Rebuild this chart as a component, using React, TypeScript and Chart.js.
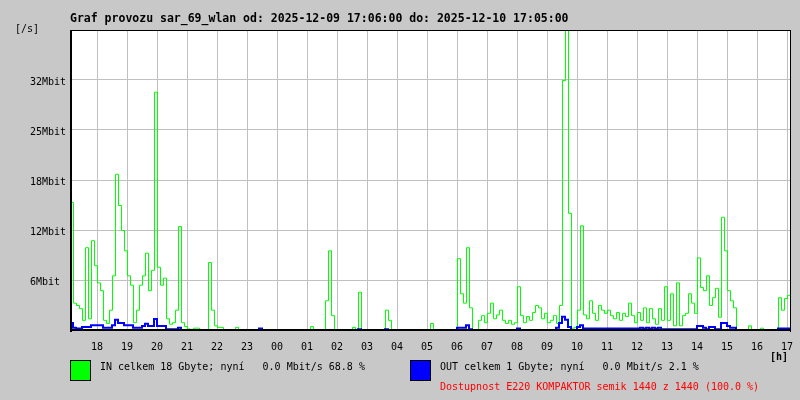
import React, { useEffect, useRef } from "react";
import { Chart, registerables } from "chart.js";

Chart.register(...registerables);

// ---- data ----
const SAMPLE_MINUTES = 6; // one sample every 6 minutes, starting 17:06
const RANGE_MINUTES = 1440;
const hourLabels = [
  "18", "19", "20", "21", "22", "23", "00", "01", "02", "03", "04", "05",
  "06", "07", "08", "09", "10", "11", "12", "13", "14", "15", "16", "17",
];
const FIRST_HOUR_OFFSET = 54; // 17:06 -> 18:00
const yTickValues = [0, 6.4, 12.8, 19.2, 25.6, 32, 38.4];
const yTickLabels = ["", "6Mbit", "12Mbit", "18Mbit", "25Mbit", "32Mbit", ""];

// IN traffic [Mbit/s]
const inMbit = [
  16.4, 3.5, 3.2, 2.8, 1.3, 10.6, 1.5, 11.5, 8.3, 6.1,
  5.1, 1.3, 0.9, 2.6, 7.0, 20.0, 16.0, 12.8, 10.2, 7.0,
  5.8, 1.0, 2.6, 5.8, 7.0, 9.9, 5.1, 7.7, 30.5, 8.1,
  5.8, 6.7, 1.5, 0.8, 1.0, 2.6, 13.3, 1.0, 0.5, 0.2,
  0.1, 0.3, 0.3, 0.1, 0, 0.1, 8.7, 2.6, 0.6, 0.4,
  0.4, 0, 0, 0, 0, 0.4, 0, 0, 0, 0,
  0, 0, 0, 0, 0, 0, 0, 0, 0, 0,
  0, 0, 0, 0, 0, 0, 0, 0, 0, 0,
  0.5, 0, 0, 0, 0, 3.8, 10.2, 1.9, 0.1, 0,
  0, 0, 0, 0, 0.4, 0, 4.9, 0, 0, 0,
  0, 0, 0, 0, 0, 2.6, 1.3, 0, 0, 0,
  0, 0, 0, 0, 0, 0, 0, 0, 0, 0,
  0.9, 0, 0, 0, 0, 0, 0, 0, 0, 9.2,
  4.7, 3.5, 10.6, 2.9, 0, 0.1, 1.3, 1.9, 1.0, 2.2,
  3.5, 1.5, 2.0, 2.6, 1.3, 0.9, 1.3, 0.8, 1.0, 5.6,
  1.9, 1.0, 1.8, 1.3, 2.3, 3.2, 2.9, 1.5, 2.2, 1.0,
  1.3, 1.9, 0.9, 3.2, 32.0, 38.8, 15.0, 0.3, 0.4, 2.6,
  13.4, 2.0, 1.5, 3.8, 2.2, 1.3, 3.2, 2.6, 2.2, 2.6,
  1.9, 1.5, 2.3, 1.3, 2.2, 1.8, 3.5, 1.9, 1.0, 2.3,
  1.3, 2.9, 1.0, 2.8, 1.5, 0.8, 2.8, 1.3, 5.6, 1.3,
  4.7, 0.6, 6.1, 0.6, 1.9, 2.2, 4.7, 3.5, 2.2, 9.3,
  5.5, 5.1, 7.0, 3.2, 4.2, 5.4, 1.7, 14.5, 10.2, 5.1,
  3.8, 2.9, 0, 0, 0, 0, 0.6, 0, 0, 0,
  0.3, 0, 0, 0, 0, 0, 4.2, 2.6, 4.1, 4.5,
  3.8,
];

// OUT traffic [Mbit/s]
const outMbit = [
  0.9, 0.3, 0.2, 0.2, 0.4, 0.4, 0.4, 0.6, 0.6, 0.6,
  0.6, 0.3, 0.3, 0.3, 0.6, 1.3, 0.9, 0.9, 0.6, 0.6,
  0.6, 0.3, 0.3, 0.3, 0.5, 0.8, 0.5, 0.5, 1.4, 0.5,
  0.5, 0.5, 0.1, 0.1, 0.1, 0.1, 0.3, 0, 0, 0,
  0, 0, 0, 0, 0, 0, 0, 0, 0, 0,
  0, 0, 0, 0, 0, 0, 0, 0, 0, 0,
  0, 0, 0, 0.2, 0, 0, 0, 0, 0, 0,
  0, 0, 0, 0, 0, 0, 0, 0, 0, 0,
  0, 0, 0, 0, 0, 0, 0, 0, 0, 0,
  0, 0, 0, 0, 0, 0, 0.1, 0, 0, 0,
  0, 0, 0, 0, 0, 0.1, 0, 0, 0, 0,
  0, 0, 0, 0, 0, 0, 0, 0, 0, 0,
  0, 0, 0, 0, 0, 0, 0, 0, 0, 0.3,
  0.3, 0.3, 0.6, 0.1, 0, 0, 0, 0, 0, 0,
  0, 0, 0, 0, 0, 0, 0, 0, 0, 0.2,
  0, 0, 0, 0, 0, 0, 0, 0, 0, 0,
  0, 0, 0.3, 0.9, 1.7, 1.3, 0.4, 0, 0, 0.4,
  0.6, 0.2, 0.2, 0.2, 0.2, 0.2, 0.2, 0.2, 0.2, 0.2,
  0.2, 0.2, 0.2, 0.2, 0.2, 0.2, 0.2, 0.2, 0.2, 0.2,
  0.3, 0.2, 0.3, 0.2, 0.3, 0.2, 0.3, 0.1, 0.1, 0.1,
  0.1, 0.1, 0.1, 0.1, 0.1, 0.1, 0.1, 0.1, 0.1, 0.5,
  0.5, 0.3, 0.1, 0.4, 0.4, 0.1, 0.1, 0.9, 0.9, 0.5,
  0.3, 0.3, 0, 0, 0, 0, 0, 0, 0, 0,
  0, 0, 0, 0, 0, 0, 0.2, 0.2, 0.2, 0.2,
  0.2,
];

const titleText = "Graf provozu sar_69_wlan od: 2025-12-09 17:06:00 do: 2025-12-10 17:05:00";
const yUnitText = "[/s]";
const xUnitText = "[h]";
const inLegendText = "IN celkem 18 Gbyte; nyní   0.0 Mbit/s 68.8 %";
const outLegendText = "OUT celkem 1 Gbyte; nyní   0.0 Mbit/s 2.1 %";
const availabilityText = "Dostupnost E220 KOMPAKTOR semik 1440 z 1440 (100.0 %)";

const MONO = '"DejaVu Sans Mono", "Liberation Mono", monospace';

const decorPlugin = {
  id: "mrtgDecor",
  beforeDraw(chart: any) {
    const { ctx, chartArea: a, width, height } = chart;
    ctx.save();
    ctx.fillStyle = "#c8c8c8";
    ctx.fillRect(0, 0, width, height);
    ctx.fillStyle = "#ffffff";
    ctx.fillRect(a.left, a.top, a.right - a.left, a.bottom - a.top);
    ctx.restore();
  },
  beforeDatasetDraw(chart: any, args: any) {
    chart.ctx.save();
    if (args.index === 1) chart.ctx.translate(0.5, 0.5);
  },
  afterDatasetDraw(chart: any) {
    chart.ctx.restore();
  },
  afterDraw(chart: any) {
    const { ctx, chartArea: a } = chart;
    ctx.save();
    // frame
    ctx.fillStyle = "#000000";
    ctx.fillRect(a.left, a.top, a.right - a.left + 1, 1);
    ctx.fillRect(a.right, a.top, 1, a.bottom - a.top + 2);
    ctx.fillRect(a.left, a.top, 2, a.bottom - a.top + 2);
    ctx.fillRect(a.left, a.bottom - 1, a.right - a.left + 1, 2);

    ctx.textBaseline = "middle";
    ctx.textAlign = "left";
    ctx.fillStyle = "#000000";
    ctx.font = `bold 11.5px ${MONO}`;
    ctx.fillText(titleText, 70, 19);
    ctx.font = `10px ${MONO}`;
    ctx.fillText(yUnitText, 15, 29);
    ctx.font = `bold 10px ${MONO}`;
    ctx.fillText(xUnitText, 770, 357);

    // legend boxes
    ctx.fillStyle = "#00ff00";
    ctx.fillRect(70, 360, 21, 21);
    ctx.fillStyle = "#0000ff";
    ctx.fillRect(410, 360, 21, 21);
    ctx.strokeStyle = "#000000";
    ctx.lineWidth = 1;
    ctx.strokeRect(70.5, 360.5, 20, 20);
    ctx.strokeRect(410.5, 360.5, 20, 20);

    ctx.font = `10px ${MONO}`;
    ctx.fillStyle = "#000000";
    ctx.fillText(inLegendText, 100, 367);
    ctx.fillText(outLegendText, 440, 367);
    ctx.fillStyle = "#ff0000";
    ctx.fillText(availabilityText, 440, 387);
    ctx.restore();
  },
};

export default function App() {
  const canvasRef = useRef<HTMLCanvasElement>(null);

  useEffect(() => {
    document.body.style.margin = "0";
    const canvas = canvasRef.current;
    if (!canvas) return;
    const toPoints = (arr: number[]) => arr.map((v, i) => ({ x: i * SAMPLE_MINUTES, y: v }));
    const hourTicks = hourLabels.map((_, k) => FIRST_HOUR_OFFSET + 60 * k);

    const chart = new Chart(canvas, {
      type: "line",
      data: {
        datasets: [
          {
            label: "OUT",
            data: toPoints(outMbit),
            borderColor: "#0000ff",
            borderWidth: 2,
            pointRadius: 0,
            stepped: true,
            fill: false,
          },
          {
            label: "IN",
            data: toPoints(inMbit),
            borderColor: "#00ff00",
            borderWidth: 1,
            pointRadius: 0,
            stepped: true,
            fill: false,
          },
        ],
      },
      options: {
        animation: false,
        responsive: false,
        devicePixelRatio: 1,
        layout: { padding: { left: 30, right: 10, top: 30, bottom: 0 } },
        plugins: {
          legend: { display: false },
          title: { display: false },
          tooltip: { enabled: false },
        },
        scales: {
          x: {
            type: "linear",
            min: 0,
            max: RANGE_MINUTES,
            afterBuildTicks: (s: any) => {
              s.ticks = hourTicks.map((v) => ({ value: v }));
            },
            afterFit: (s: any) => {
              s.height = 70;
              s.paddingLeft = 0;
              s.paddingRight = 0;
            },
            grid: { color: "#c0c0c0", lineWidth: 1, drawTicks: false },
            border: { display: false },
            ticks: {
              autoSkip: false,
              maxRotation: 0,
              minRotation: 0,
              padding: 11,
              color: "#000000",
              font: { family: MONO, size: 10 },
              callback: (_v: any, i: number) => hourLabels[i],
            },
          },
          y: {
            type: "linear",
            min: 0,
            max: 38.4,
            afterBuildTicks: (s: any) => {
              s.ticks = yTickValues.map((v) => ({ value: v }));
            },
            afterFit: (s: any) => {
              s.width = 40;
              s.paddingTop = 0;
              s.paddingBottom = 0;
            },
            grid: { color: "#c0c0c0", lineWidth: 1, drawTicks: false },
            border: { display: false },
            ticks: {
              crossAlign: "far",
              labelOffset: 2,
              color: "#000000",
              font: { family: MONO, size: 10 },
              callback: (_v: any, i: number) => yTickLabels[i],
            },
          },
        },
      },
      plugins: [decorPlugin],
    });
    return () => chart.destroy();
  }, []);

  return (
    <div style={{ position: "absolute", left: 0, top: 0, width: 800, height: 400 }}>
      <canvas ref={canvasRef} width={800} height={400} style={{ display: "block" }} />
    </div>
  );
}
